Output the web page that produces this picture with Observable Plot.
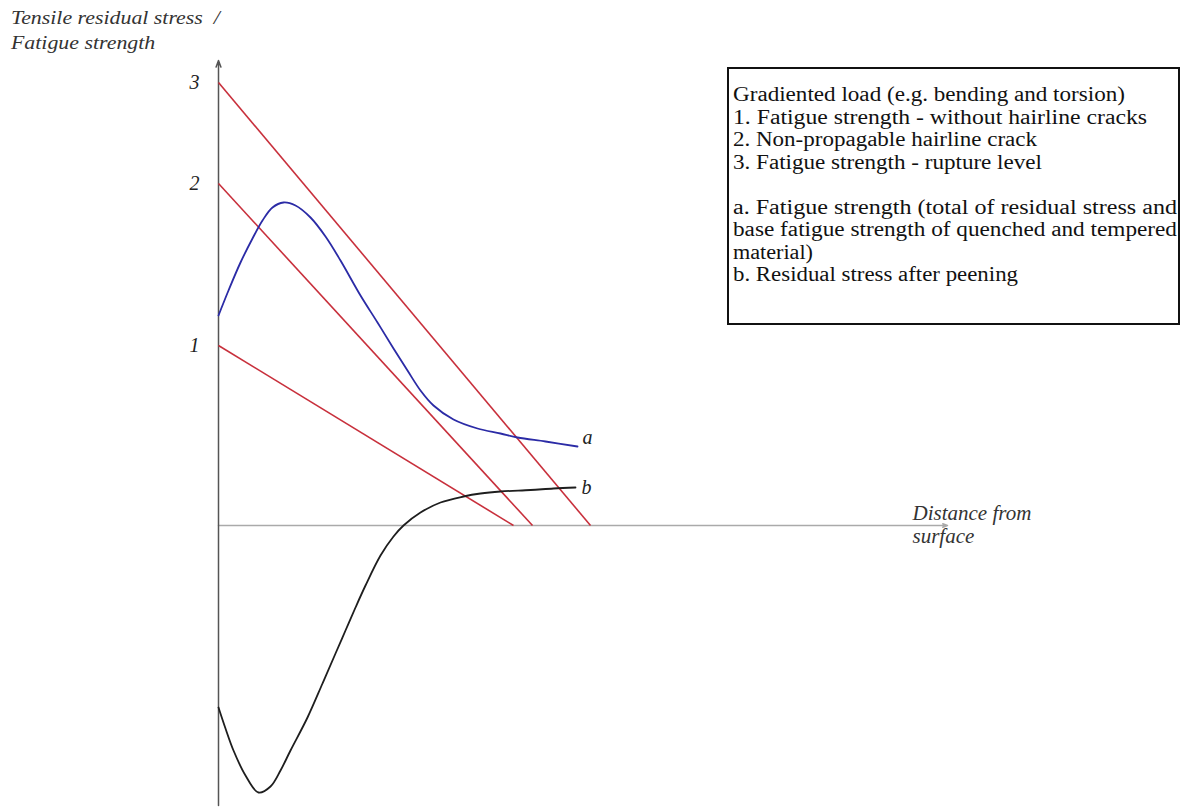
<!DOCTYPE html>
<html><head><meta charset="utf-8">
<script src="https://cdn.jsdelivr.net/npm/d3@7"></script>
<script src="https://cdn.jsdelivr.net/npm/@observablehq/plot@0.6"></script>
<style>
body{margin:0;background:#fff;}
#wrap{position:relative;width:1181px;height:810px;font-family:"Liberation Serif","Times New Roman",serif;overflow:hidden;}
#ytitle{position:absolute;left:11px;top:5px;font-style:italic;font-size:19px;line-height:25px;color:#333;white-space:nowrap;transform:scaleX(1.15);transform-origin:0 0;}
#legend{position:absolute;left:727px;top:67px;width:453px;height:258px;border:2px solid #111;box-sizing:border-box;}
#legtext{position:absolute;left:4px;top:14px;font-size:20px;line-height:22.5px;color:#111;white-space:nowrap;}
#legtext div{height:22.5px;}
#legtext span{display:inline-block;transform-origin:0 50%;}
</style></head>
<body>
<div id="wrap">
  <div id="chart"></div>
  <div id="ytitle">Tensile residual stress&nbsp; /<br>Fatigue strength</div>
  <div id="legend"><div id="legtext"></div></div>
</div>
<script>
// Strength levels (tick labels), their height on the stress axis and where each gradient line meets zero
const levelLabels = ["1", "2", "3"];
const levelY = [1.80, 3.42, 4.43];
const levelZeroX = [295, 314, 372];

// Curve a: fatigue strength (residual stress + base fatigue strength)
const aX = [0, 10, 22, 34, 44, 54, 65, 77, 92, 107, 122, 142, 159, 175, 189, 202, 215, 235, 259, 282, 299, 327, 359];
const aY = [2.10, 2.35, 2.63, 2.87, 3.05, 3.18, 3.23, 3.20, 3.08, 2.89, 2.65, 2.30, 2.03, 1.77, 1.55, 1.35, 1.20, 1.06, 0.97, 0.92, 0.88, 0.84, 0.79];

// Curve b: residual stress after peening
const bX = [0, 7, 15, 27, 40, 52, 62, 72, 89, 104, 117, 127, 137, 147, 162, 175, 185, 202, 222, 245, 262, 282, 312, 335, 357];
const bY = [-1.82, -2.03, -2.25, -2.50, -2.67, -2.61, -2.45, -2.25, -1.92, -1.58, -1.28, -1.05, -0.82, -0.60, -0.30, -0.11, 0, 0.13, 0.23, 0.29, 0.32, 0.34, 0.355, 0.37, 0.38];

// Legend lines
const legendLines = [
  "Gradiented load (e.g. bending and torsion)",
  "1. Fatigue strength - without hairline cracks",
  "2. Non-propagable hairline crack",
  "3. Fatigue strength - rupture level",
  "",
  "a. Fatigue strength (total of residual stress and",
  "base fatigue strength of quenched and tempered",
  "material)",
  "b. Residual stress after peening"
];
const legendLineWidths = [392, 414, 304, 309, 0, 444, 444, 80, 285];

// Axis extents
const xAxisEnd = [729];
const yAxisRange = [-2.80, 4.65];

const levels = levelLabels.map((t, i) => ({label: t, y: levelY[i], x2: levelZeroX[i]}));
const curveA = aX.map((x, i) => ({x, y: aY[i]}));
const curveB = bX.map((x, i) => ({x, y: bY[i]}));
const endA = [{x: aX[aX.length - 1], y: aY[aY.length - 1], t: "a"}];
const endB = [{x: bX[bX.length - 1], y: bY[bY.length - 1], t: "b"}];

const chart = Plot.plot({
  width: 1181,
  height: 810,
  marginLeft: 218,
  marginRight: 0,
  marginTop: 0,
  marginBottom: 0,
  style: {fontFamily: "Liberation Serif, Times New Roman, serif", background: "transparent"},
  x: {domain: [0, 963], axis: null},
  y: {domain: [-2.85, 5.25], axis: null},
  marks: [
    Plot.arrow(xAxisEnd, {x1: 0, y1: 0, x2: d => d, y2: 0, stroke: "#aaa", strokeWidth: 1.5, headLength: 5, headAngle: 40}),
    Plot.arrow([yAxisRange], {x1: 0, y1: d => d[0], x2: 0, y2: d => d[1], stroke: "#555", strokeWidth: 1.5, headLength: 7, headAngle: 40}),
    Plot.link(levels, {x1: 0, y1: "y", x2: "x2", y2: 0, stroke: "#c8303c", strokeWidth: 1.6}),
    Plot.line(curveA, {x: "x", y: "y", curve: "catmull-rom", stroke: "#2b2ba6", strokeWidth: 1.8}),
    Plot.line(curveB, {x: "x", y: "y", curve: "catmull-rom", stroke: "#1e1e1e", strokeWidth: 1.8}),
    Plot.text(levels, {x: 0, y: "y", text: "label", dx: -24, fontStyle: "italic", fontSize: 20, fill: "#222"}),
    Plot.text(endA, {x: "x", y: "y", text: "t", dx: 10, dy: -9, fontStyle: "italic", fontSize: 20, fill: "#222"}),
    Plot.text(endB, {x: "x", y: "y", text: "t", dx: 11, dy: 0, fontStyle: "italic", fontSize: 20, fill: "#222"}),
    Plot.text(xAxisEnd, {x: d => d, y: 0, text: () => "Distance from\nsurface", textAnchor: "start", lineAnchor: "middle", dx: -35, dy: -1, fontStyle: "italic", fontSize: 21, lineHeight: 1.1, fill: "#333"})
  ]
});
document.getElementById("chart").appendChild(chart);

// Legend text, each line stretched to the width it has in the original
const legText = document.getElementById("legtext");
legendLines.forEach((t, i) => {
  const row = document.createElement("div");
  if (t) {
    const s = document.createElement("span");
    s.textContent = t;
    row.appendChild(s);
    legText.appendChild(row);
    const w = s.getBoundingClientRect().width;
    if (w > 0) s.style.transform = `scaleX(${legendLineWidths[i] / w})`;
  } else {
    legText.appendChild(row);
  }
});
</script>
</body></html>
